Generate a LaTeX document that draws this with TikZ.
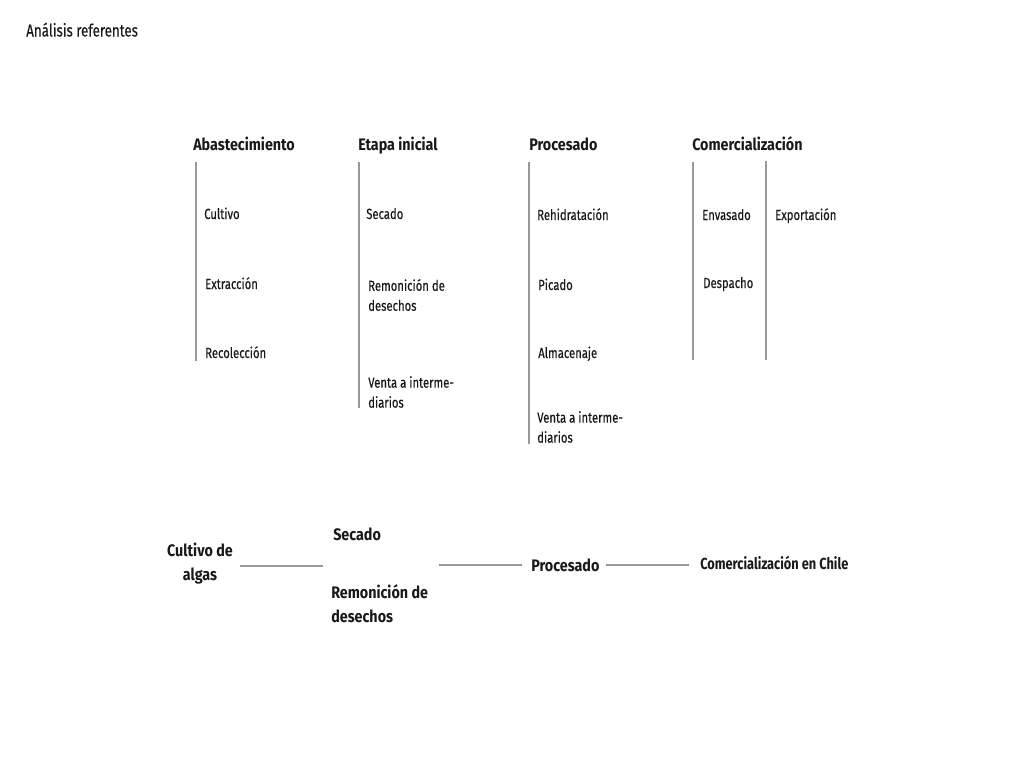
\documentclass[tikz,border=0pt]{standalone}
\usepackage{fontspec}
\setmainfont[FakeStretch=0.77,FakeBold=0.3,BoldFeatures={FakeBold=0}]{Fira Sans}
\newfontfamily\hdrfont[FakeStretch=0.86]{Fira Sans}
\newfontfamily\chfont[FakeStretch=0.8]{Fira Sans}
\begin{document}
\begin{tikzpicture}[x=0.75pt,y=-0.75pt,
  lbl/.style={anchor=base west,inner sep=0pt,font=\fontsize{11}{15}\selectfont,align=left,text=black!90},
  lbltwo/.style={lbl,anchor=west},
  hdr/.style={anchor=base west,inner sep=0pt,font=\hdrfont\fontsize{12.5}{18}\selectfont\bfseries,text=black!90},
  big/.style={inner sep=0pt,font=\hdrfont\fontsize{12.5}{18}\selectfont\bfseries,text=black!90},
  ttl/.style={anchor=base west,inner sep=0pt,font=\fontsize{13}{15}\selectfont,text=black!90},
  vline/.style={draw=black!40,line width=0.8pt},
  hline/.style={draw=black!40,line width=0.8pt}]
\useasboundingbox[fill=white] (0,0) rectangle (1024,768);
\node[ttl] (title) at (26,36.5) {Análisis referentes};
% headers
\node[hdr] (h1) at (193,150.5) {Abastecimiento};
\node[hdr] (h2) at (358,150) {Etapa inicial};
\node[hdr] (h3) at (529,150) {Procesado};
\node[hdr] (h4) at (692,150) {Comercialización};
% vertical lines
\coordinate (v1a) at (196,162); \coordinate (v1b) at (196,361);
\coordinate (v2a) at (359,162); \coordinate (v2b) at (359,408);
\coordinate (v3a) at (529,162); \coordinate (v3b) at (529,444);
\coordinate (v4a) at (693,162); \coordinate (v4b) at (693,360);
\coordinate (v5a) at (766,161); \coordinate (v5b) at (766,360);
\draw[vline] (v1a) -- (v1b);
\draw[vline] (v2a) -- (v2b);
\draw[vline] (v3a) -- (v3b);
\draw[vline] (v4a) -- (v4b);
\draw[vline] (v5a) -- (v5b);
% column 1
\node[lbl] (c1a) at (204,219) {Cultivo};
\node[lbl] (c1b) at (205,289) {Extracción};
\node[lbl] (c1c) at (205,358) {Recolección};
% column 2
\node[lbl] (c2a) at (366,219) {Secado};
\node[lbltwo] (c2b) at (368,295) {Remonición de\\desechos};
\node[lbltwo] (c2c) at (368,392) {Venta a interme-\\diarios};
% column 3
\node[lbl] (c3a) at (537,220) {Rehidratación};
\node[lbl] (c3b) at (538,290) {Picado};
\node[lbl] (c3c) at (538,358) {Almacenaje};
\node[lbltwo] (c3d) at (537,427) {Venta a interme-\\diarios};
% column 4
\node[lbl] (c4a) at (702,220) {Envasado};
\node[lbl] (c4b) at (703,288) {Despacho};
\node[lbl] (c5a) at (775,220) {Exportación};
% bottom flow
\node[big,align=center] (b1) at (200,564) {Cultivo de\\algas};
\node[big,anchor=base west] (b2a) at (333,540) {Secado};
\node[big,anchor=west,align=left] (b2b) at (331,604) {Remonición de\\desechos};
\node[big,anchor=base west] (b3) at (531,571) {Procesado};
\node[big,anchor=base west,font=\chfont\fontsize{12}{15}\selectfont\bfseries] (b4) at (700,569.5) {Comercialización en Chile};
\coordinate (l1a) at (240,566); \coordinate (l1b) at (323,566);
\coordinate (l2a) at (439,565); \coordinate (l2b) at (522,565);
\coordinate (l3a) at (606,565); \coordinate (l3b) at (689,565);
\draw[hline] (l1a) -- (l1b);
\draw[hline] (l2a) -- (l2b);
\draw[hline] (l3a) -- (l3b);
\end{tikzpicture}
\end{document}
